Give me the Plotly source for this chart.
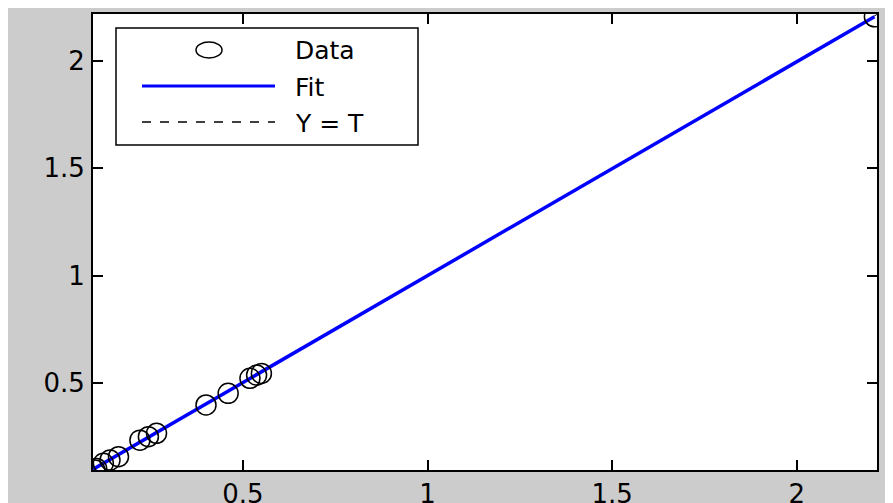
import plotly.graph_objects as go

# Data
targets = [0.099, 0.104, 0.122, 0.140, 0.163, 0.221, 0.244, 0.266, 0.400, 0.460, 0.519, 0.537, 0.550, 2.210]
outputs = [0.095, 0.102, 0.126, 0.141, 0.157, 0.234, 0.250, 0.266, 0.398, 0.452, 0.522, 0.537, 0.545, 2.206]
fit_t = [0.094, 2.210]
fit_y = [0.098, 2.206]
ident = [0.094, 2.217]
x_ticks = [0.5, 1, 1.5, 2]
y_ticks = [0.5, 1, 1.5, 2]
x_tick_text = ["0.5", "1", "1.5", "2"]
y_tick_text = ["0.5", "1", "1.5", "2"]
legend_names = ["Data", "Fit", "Y = T"]

W, H = 893, 503
OFF = 8  # page body margin
# plot area in page pixels
L, R, T, B = 93, 877, 14, 470

fig = go.Figure()
fig.add_trace(go.Scatter(x=ident, y=ident, mode="lines", name=legend_names[2],
                         line=dict(color="black", width=1, dash="dash"), showlegend=False))
fig.add_trace(go.Scatter(x=fit_t, y=fit_y, mode="lines", name=legend_names[1],
                         line=dict(color="#0000ff", width=3.5), showlegend=False))
fig.add_trace(go.Scatter(x=targets, y=outputs, mode="markers", name=legend_names[0],
                         marker=dict(symbol="circle-open", size=20, color="black",
                                     line=dict(width=1.5, color="black")),
                         showlegend=False))

def px(xp):
    return (xp - L) / (R - L)

def py(yp):
    return (B - yp) / (B - T)

shapes = []
shapes.append(dict(type="rect", xref="paper", yref="paper",
                   x0=px(116), x1=px(418), y0=py(145), y1=py(28),
                   line=dict(color="black", width=1.5), fillcolor="white", layer="above"))
shapes.append(dict(type="circle", xref="paper", yref="paper", xsizemode="pixel", ysizemode="pixel",
                   xanchor=px(209), yanchor=py(50), x0=-13, x1=13, y0=-8, y1=8,
                   line=dict(color="black", width=1.5), layer="above"))
shapes.append(dict(type="line", xref="paper", yref="paper",
                   x0=px(142), x1=px(275), y0=py(86), y1=py(86),
                   line=dict(color="#0000ff", width=3), layer="above"))
shapes.append(dict(type="line", xref="paper", yref="paper",
                   x0=px(142), x1=px(275), y0=py(122), y1=py(122),
                   line=dict(color="black", width=1.3, dash="dash"), layer="above"))

annotations = []
for name, yp in zip(legend_names, [51, 87, 123]):
    annotations.append(dict(text=name, xref="paper", yref="paper", x=px(293), y=py(yp),
                            xanchor="left", yanchor="middle", showarrow=False,
                            font=dict(family="DejaVu Sans", size=25, color="black")))

axis_common = dict(showgrid=False, zeroline=False, showline=True, linecolor="black", linewidth=2,
                   mirror="ticks", ticks="inside", ticklen=10, tickwidth=2, tickcolor="black",
                   tickfont=dict(family="DejaVu Sans", size=26, color="black"))

fig.update_layout(
    width=W, height=H,
    margin=dict(l=L - OFF, r=W - (R - OFF), t=T - OFF, b=H - (B - OFF), autoexpand=False),
    paper_bgcolor="#cccccc", plot_bgcolor="white",
    showlegend=False,
    shapes=shapes, annotations=annotations,
    xaxis=dict(range=[0.094, 2.217], tickvals=x_ticks, ticktext=x_tick_text,
               ticklabelstandoff=0, **axis_common),
    yaxis=dict(range=[0.095, 2.219], tickvals=y_ticks, ticktext=y_tick_text,
               ticklabelstandoff=1, **axis_common),
)

fig.write_html("out.html")
